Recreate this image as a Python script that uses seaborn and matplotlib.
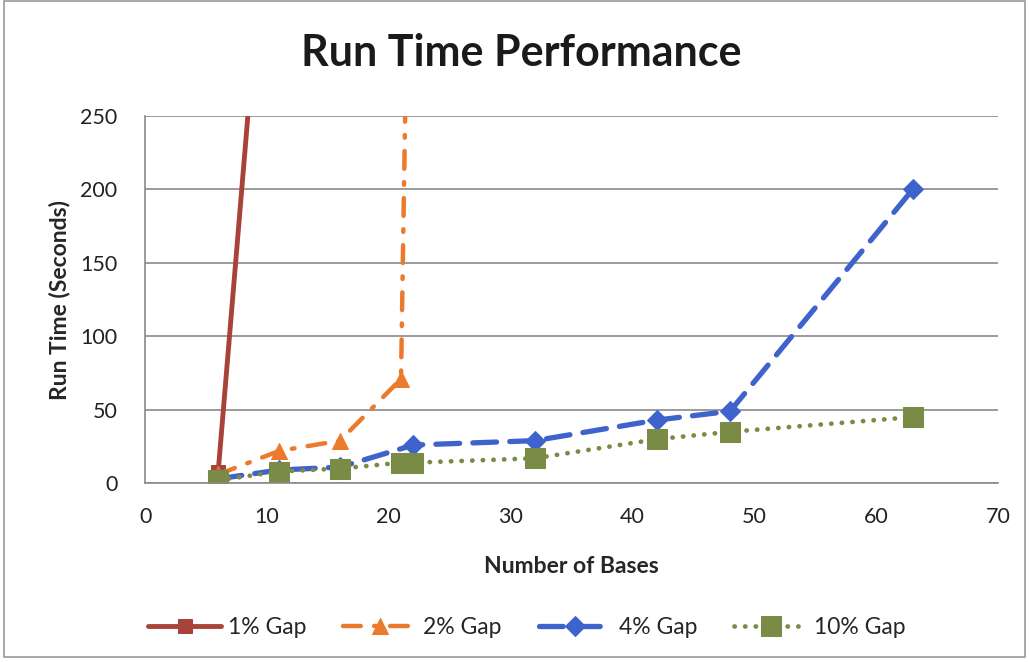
import matplotlib
matplotlib.use("Agg")
import matplotlib.pyplot as plt
from matplotlib.patches import Rectangle
import seaborn as sns
import pandas as pd

# Run time measurements per gap setting
bases_1 = [6, 11]
time_1 = [8, 505]

bases_2 = [6, 11, 16, 21, 22]
time_2 = [6, 22, 29, 71, 600]

bases_4 = [6, 11, 16, 22, 32, 42, 48, 63]
time_4 = [3, 9, 11, 26, 29, 43, 49, 200]

bases_10 = [6, 11, 16, 21, 22, 32, 42, 48, 63]
time_10 = [2, 8, 10, 14, 14, 17, 30, 35, 45]

series_labels = ["1% Gap", "2% Gap", "4% Gap", "10% Gap"]
x_ticks = [0, 10, 20, 30, 40, 50, 60, 70]
y_ticks = [0, 50, 100, 150, 200, 250]

frames = []
for lab, xs, ys in zip(series_labels,
                       [bases_1, bases_2, bases_4, bases_10],
                       [time_1, time_2, time_4, time_10]):
    frames.append(pd.DataFrame({"bases": xs, "time": ys, "series": lab}))
df = pd.concat(frames, ignore_index=True)

sns.set_theme(style="white")
plt.rcParams["font.family"] = ["Lato", "DejaVu Sans"]

fig = plt.figure(figsize=(10.29, 6.62), dpi=100)
ax = fig.add_axes([0.141, 0.270, 0.829, 0.555])

styles = {
    "1% Gap": dict(color="#A8433A", marker="s", ms=10, lw=3.5, dashes=None),
    "2% Gap": dict(color="#EC7A2C", marker="^", ms=11, lw=3.2, dashes=(4.0, 3.0, 0.6, 3.0)),
    "4% Gap": dict(color="#3F63CC", marker="D", ms=10, lw=3.8, dashes=(4.5, 2.5)),
    "10% Gap": dict(color="#7A8B45", marker="s", ms=14, lw=3.4, dashes=(0.05, 2.2)),
}

for lab in series_labels:
    st = styles[lab]
    sub = df[df["series"] == lab]
    sns.lineplot(data=sub, x="bases", y="time", ax=ax, color=st["color"],
                 marker=st["marker"], markersize=st["ms"], markeredgecolor=st["color"],
                 linewidth=st["lw"], label=lab, sort=False, estimator=None)
    line = ax.lines[-1]
    if st["dashes"] is not None:
        line.set_dashes(st["dashes"])
    line.set_dash_capstyle("round")

ax.set_xlim(0, 70)
ax.set_ylim(0, 250)
ax.set_xticks(x_ticks)
ax.set_yticks(y_ticks)
ax.tick_params(axis="both", labelsize=15.5, colors="#222222", length=0)
ax.tick_params(axis="y", pad=20)
ax.tick_params(axis="x", pad=17)
ax.yaxis.grid(True, color="#8a8a8a", linewidth=1.2)
ax.xaxis.grid(False)
for s in ["top", "right"]:
    ax.spines[s].set_visible(False)
for s in ["left", "bottom"]:
    ax.spines[s].set_color("#8a8a8a")
    ax.spines[s].set_linewidth(1.2)

ax.set_xlabel("Number of Bases", fontsize=16.5, fontweight="bold", labelpad=21)
ax.set_ylabel("Run Time (Seconds)", fontsize=16.5, fontweight="bold", labelpad=7)
fig.suptitle("Run Time Performance", fontsize=31, fontweight="bold", x=0.507, y=0.95,
             color="#1a1a1a")

handles, labels = ax.get_legend_handles_labels()
ax.legend_.remove()
fig.legend(handles, labels, loc="center", bbox_to_anchor=(0.512, 0.052), ncol=4,
           frameon=False, fontsize=16.5, handlelength=3.2, columnspacing=1.6,
           handletextpad=0.3)

fig.patches.append(Rectangle((0.004, 0.008), 0.992, 0.99, transform=fig.transFigure,
                             fill=False, edgecolor="#9a9a9a", linewidth=1.2))

fig.savefig("out.png", dpi=100)
